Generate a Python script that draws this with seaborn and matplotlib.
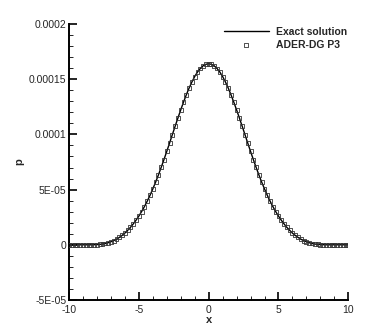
import matplotlib
matplotlib.use('Agg')
import matplotlib.pyplot as plt
import pandas as pd
import seaborn as sns
from matplotlib.ticker import MultipleLocator, FixedLocator, FixedFormatter

# sample positions (one side, mirrored) and p values, in 1e-6
x_half = [0.0, 0.2, 0.4, 0.6, 0.8, 1.0, 1.2, 1.4, 1.6, 1.8,
          2.0, 2.2, 2.4, 2.6, 2.8, 3.0, 3.2, 3.4, 3.6, 3.8,
          4.0, 4.2, 4.4, 4.6, 4.8, 5.0, 5.2, 5.4, 5.6, 5.8,
          6.0, 6.2, 6.4, 6.6, 6.8, 7.0, 7.2, 7.4, 7.6, 7.8,
          8.0, 8.2, 8.4, 8.6, 8.8, 9.0, 9.2, 9.4, 9.6, 9.8, 10.0]
p_half = [164.0, 163.5, 162.1, 159.7, 156.5, 152.4, 147.5, 142.0, 135.9, 129.2,
          122.2, 114.9, 107.4, 99.8, 92.1, 84.6, 77.2, 70.1, 63.2, 56.7,
          50.6, 44.8, 39.5, 34.6, 30.1, 26.0, 22.3, 18.9, 15.8, 13.1,
          10.6, 8.5, 6.7, 5.1, 3.8, 2.8, 1.9, 1.2, 0.7, 0.4,
          0.2, 0.1, 0.0, 0.0, 0.0, 0.0, 0.0, 0.0, 0.0, 0.0, 0.0]

x_vals = [-v for v in x_half[:0:-1]] + x_half
p_vals = [v * 1e-6 for v in p_half[:0:-1] + p_half]

y_ticks = [-5e-05, 0, 5e-05, 1e-04, 1.5e-04, 2e-04]
y_labels = ['-5E-05', '0', '5E-05', '0.0001', '0.00015', '0.0002']
x_ticks = [-10, -5, 0, 5, 10]
x_labels = ['-10', '-5', '0', '5', '10']

df = pd.DataFrame({'x': x_vals, 'p': p_vals})

sns.set_theme(style='ticks')
plt.rcParams['font.family'] = ['Liberation Sans', 'DejaVu Sans']

fig = plt.figure(figsize=(3.74, 3.32), dpi=100)
ax = fig.add_axes([0.1845, 0.0964, 0.7468, 0.8313])

sns.lineplot(data=df, x='x', y='p', ax=ax, color='black', linewidth=1.0,
             label='Exact solution')
sns.scatterplot(data=df, x='x', y='p', ax=ax, marker='s', s=8,
                facecolor='none', edgecolor='#333333', linewidth=0.6,
                label='ADER-DG P3', zorder=3)

ax.set_xlim(-10, 10)
ax.set_ylim(-5e-05, 2e-04)
ax.xaxis.set_major_locator(FixedLocator(x_ticks))
ax.xaxis.set_major_formatter(FixedFormatter(x_labels))
ax.xaxis.set_minor_locator(MultipleLocator(1))
ax.yaxis.set_major_locator(FixedLocator(y_ticks))
ax.yaxis.set_major_formatter(FixedFormatter(y_labels))
ax.yaxis.set_minor_locator(MultipleLocator(1e-05))

for s in ['top', 'right']:
    ax.spines[s].set_visible(False)
for s in ['left', 'bottom']:
    ax.spines[s].set_linewidth(1.4)
    ax.spines[s].set_color('black')

ax.tick_params(which='major', direction='in', length=6, width=1.2,
               labelsize=7.5, pad=2, color='black')
ax.tick_params(which='minor', direction='in', length=3, width=0.6,
               color='black')
ax.tick_params(axis='x', which='major', pad=3.5)

ax.set_xlabel('x', fontsize=8, fontweight='bold', labelpad=0)
ax.set_ylabel('p', fontsize=8, fontweight='bold', labelpad=3)

leg = ax.legend(loc='upper left', bbox_to_anchor=(224 / 374, 1 - 27 / 332),
                bbox_transform=fig.transFigure, frameon=False,
                handlelength=4.3, handletextpad=0.7, borderpad=0,
                borderaxespad=0, labelspacing=0.3,
                prop={'size': 7.5, 'weight': 'bold'})

fig.savefig('out.png', dpi=100)
